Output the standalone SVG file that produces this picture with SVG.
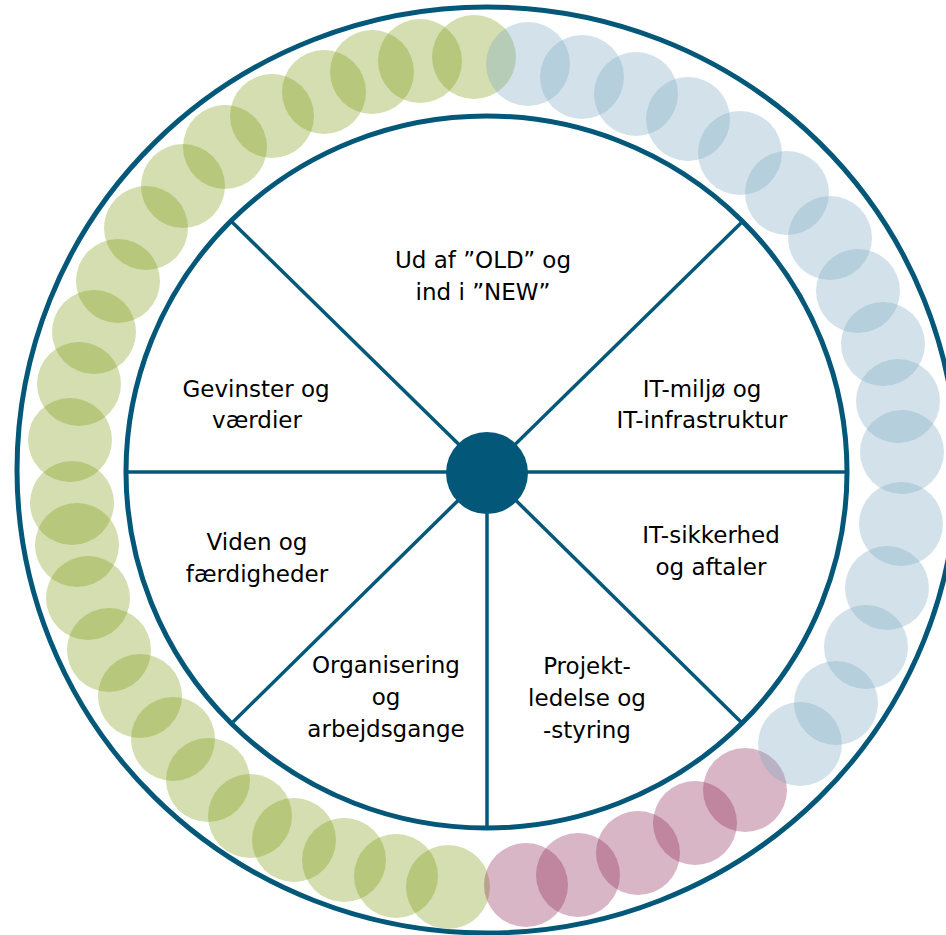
<svg xmlns="http://www.w3.org/2000/svg" width="946" height="935" viewBox="0 0 946 935">
<style>
.ring{fill:none;stroke:#03587a;stroke-width:5}
.spoke{stroke:#03587a;stroke-width:3.5;fill:none}
.g{fill:#819e17;fill-opacity:0.34}
.b{fill:#7eabc2;fill-opacity:0.34}
.p{fill:#902a54;fill-opacity:0.34}
text{font-family:"DejaVu Sans","Liberation Sans",sans-serif;font-size:23px;fill:#000;text-anchor:middle}
</style>
<rect width="946" height="935" fill="#fff"/>
<g id="beads">
<g id="green-beads">
<circle class="g" cx="474" cy="57" r="42"/>
<circle class="g" cx="420" cy="61" r="42"/>
<circle class="g" cx="372" cy="72" r="42"/>
<circle class="g" cx="324" cy="92" r="42"/>
<circle class="g" cx="272" cy="116" r="42"/>
<circle class="g" cx="225" cy="147" r="42"/>
<circle class="g" cx="183" cy="186" r="42"/>
<circle class="g" cx="146" cy="228" r="42"/>
<circle class="g" cx="118" cy="281" r="42"/>
<circle class="g" cx="94" cy="332" r="42"/>
<circle class="g" cx="79" cy="384" r="42"/>
<circle class="g" cx="70" cy="440" r="42"/>
<circle class="g" cx="72" cy="503" r="42"/>
<circle class="g" cx="77" cy="545" r="42"/>
<circle class="g" cx="88" cy="598" r="42"/>
<circle class="g" cx="109" cy="650" r="42"/>
<circle class="g" cx="140" cy="696" r="42"/>
<circle class="g" cx="173" cy="739" r="42"/>
<circle class="g" cx="208" cy="780" r="42"/>
<circle class="g" cx="250" cy="816" r="42"/>
<circle class="g" cx="294" cy="840" r="42"/>
<circle class="g" cx="344" cy="860" r="42"/>
<circle class="g" cx="396" cy="876" r="42"/>
<circle class="g" cx="448" cy="887" r="42"/>
</g>
<g id="pink-beads">
<circle class="p" cx="526" cy="885" r="42"/>
<circle class="p" cx="578" cy="875" r="42"/>
<circle class="p" cx="638" cy="853" r="42"/>
<circle class="p" cx="695" cy="823" r="42"/>
<circle class="p" cx="745" cy="790" r="42"/>
</g>
<g id="blue-beads">
<circle class="b" cx="800" cy="744" r="42"/>
<circle class="b" cx="836" cy="703" r="42"/>
<circle class="b" cx="866" cy="647" r="42"/>
<circle class="b" cx="887" cy="588" r="42"/>
<circle class="b" cx="901" cy="524" r="42"/>
<circle class="b" cx="902" cy="452" r="42"/>
<circle class="b" cx="898" cy="401" r="42"/>
<circle class="b" cx="883" cy="344" r="42"/>
<circle class="b" cx="858" cy="291" r="42"/>
<circle class="b" cx="830" cy="238" r="42"/>
<circle class="b" cx="787" cy="193" r="42"/>
<circle class="b" cx="740" cy="153" r="42"/>
<circle class="b" cx="688" cy="119" r="42"/>
<circle class="b" cx="636" cy="94" r="42"/>
<circle class="b" cx="582" cy="77" r="42"/>
<circle class="b" cx="528" cy="64" r="42"/>
</g>
</g>
<g id="outer-ring"><ellipse class="ring" cx="487" cy="470" rx="470" ry="463"/></g>
<g id="inner-ring"><ellipse class="ring" cx="486.5" cy="472" rx="360.5" ry="356" fill="#fff" style="fill:#fff"/></g>
<g id="connectors">
<line class="spoke" x1="487" y1="472" x2="232" y2="222"/>
<line class="spoke" x1="487" y1="472" x2="741" y2="223"/>
<line class="spoke" x1="487" y1="472" x2="847" y2="472"/>
<line class="spoke" x1="487" y1="472" x2="741" y2="722"/>
<line class="spoke" x1="487" y1="472" x2="487" y2="828"/>
<line class="spoke" x1="487" y1="472" x2="233" y2="722"/>
<line class="spoke" x1="487" y1="472" x2="126" y2="472"/>
</g>
<g id="hub"><circle cx="487" cy="473" r="41" fill="#03587a"/></g>
<g id="seg-old-new"><text x="483" y="268">Ud af ”OLD” og</text><text x="483" y="300">ind i ”NEW”</text></g>
<g id="seg-gevinster"><text x="256" y="397">Gevinster og</text><text x="257" y="428">værdier</text></g>
<g id="seg-it-miljo"><text x="702" y="397">IT-miljø og</text><text x="702" y="428">IT-infrastruktur</text></g>
<g id="seg-viden"><text x="257" y="550">Viden og</text><text x="257" y="582">færdigheder</text></g>
<g id="seg-organisering"><text x="386" y="673">Organisering</text><text x="386" y="705">og</text><text x="386" y="737">arbejdsgange</text></g>
<g id="seg-it-sikkerhed"><text x="711" y="543">IT-sikkerhed</text><text x="711" y="575">og aftaler</text></g>
<g id="seg-projekt"><text x="587" y="674">Projekt-</text><text x="587" y="706">ledelse og</text><text x="587" y="738">-styring</text></g>
</svg>
